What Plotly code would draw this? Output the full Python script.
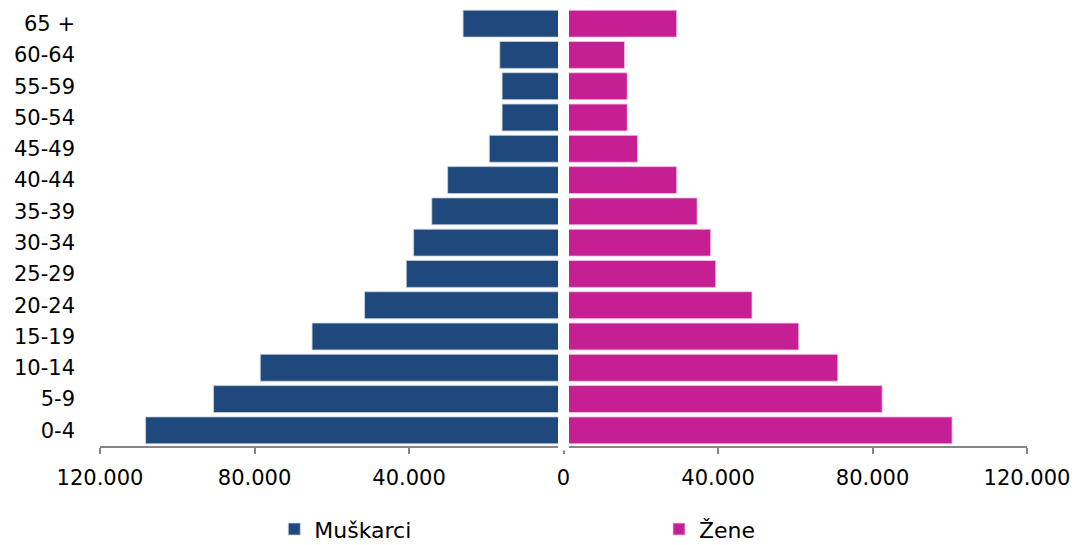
import plotly.graph_objects as go

age_groups = ["0-4", "5-9", "10-14", "15-19", "20-24", "25-29", "30-34",
              "35-39", "40-44", "45-49", "50-54", "55-59", "60-64", "65 +"]
muskarci = [108200, 90600, 78500, 65100, 51500, 40700, 38800,
            34100, 30000, 19200, 15900, 15900, 16500, 26000]
zene = [100600, 82500, 71000, 60900, 48800, 39400, 38100,
        34600, 29300, 19200, 16500, 16500, 15800, 29300]
tick_vals = [-120000, -80000, -40000, 0, 40000, 80000, 120000]
tick_text = ["120.000", "80.000", "40.000", "0", "40.000", "80.000", "120.000"]

male_color = "#1F497D"
female_color = "#C51F93"

fig = go.Figure()
fig.add_trace(go.Bar(
    y=age_groups, x=[-v for v in muskarci], orientation="h", name="Muškarci",
    marker=dict(color=male_color, line=dict(color="rgba(200,210,225,0.8)", width=1)),
    legend="legend",
))
fig.add_trace(go.Bar(
    y=age_groups, x=zene, orientation="h", name="Žene",
    marker=dict(color=female_color, line=dict(color="rgba(240,200,225,0.8)", width=1)),
    legend="legend2",
))

# white separator along the zero line (drawn over bars and axis line)
fig.add_shape(type="line", xref="x", yref="paper", x0=0, x1=0, y0=-0.01, y1=1,
              line=dict(color="white", width=11), layer="above")

legend_common = dict(orientation="h", y=-0.238, yanchor="bottom",
                     xanchor="left", font=dict(size=22), itemwidth=30,
                     bgcolor="rgba(0,0,0,0)")

fig.update_layout(
    width=1070, height=537,
    margin=dict(l=92, r=51, t=0, b=99, autoexpand=False),
    paper_bgcolor="white", plot_bgcolor="white",
    barmode="overlay", bargap=0.14,
    font=dict(family="DejaVu Sans", size=21, color="#000000"),
    showlegend=True,
    legend=dict(x=0.188, **legend_common),
    legend2=dict(x=0.603, **legend_common),
    xaxis=dict(
        range=[-120000, 120000], tickvals=tick_vals, ticktext=tick_text,
        showgrid=False, showline=True, linecolor="#868686", linewidth=2,
        ticks="outside", ticklen=6, tickwidth=2, tickcolor="#868686",
        zeroline=False, automargin=False, ticklabelstandoff=6,
        fixedrange=True,
    ),
    yaxis=dict(
        showgrid=False, showline=False, ticks="", zeroline=False,
        ticklabelstandoff=24, fixedrange=True, automargin=False,
        categoryorder="array", categoryarray=age_groups,
    ),
)

fig.write_html("out.html")
